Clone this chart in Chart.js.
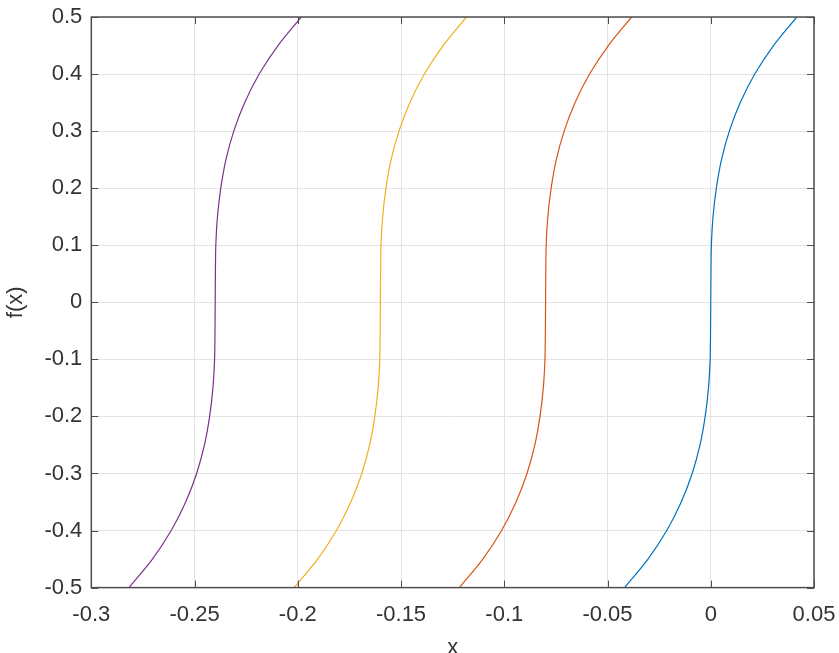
<!DOCTYPE html>
<html lang="en">
<head>
    <meta charset="UTF-8">
    <title>f(x)</title>
    <style>
        body {
            margin: 0;
            padding: 0;
            background: #fff;
        }
        .wrap {
            width: 839px;
            height: 653px;
        }
    </style>
</head>
<body>
    <div class="wrap">
        <canvas id="plot"></canvas>
    </div>
    <script src="https://cdn.jsdelivr.net/npm/chart.js"></script>
    <script>
        // f(x) values shared by all curves
        const fVals = [-0.5, -0.45, -0.4, -0.35, -0.3, -0.25, -0.2, -0.15, -0.1, -0.05, 0,
            0.05, 0.1, 0.15, 0.2, 0.25, 0.3, 0.35, 0.4, 0.45, 0.5];

        // x positions
        const xBlue = [-0.0417, -0.0304, -0.0213, -0.0143, -0.0090, -0.0052, -0.0027, -0.0011, -0.0003, -0.0001, 0,
            0.0001, 0.0003, 0.0011, 0.0027, 0.0052, 0.0090, 0.0143, 0.0213, 0.0304, 0.0417];
        const xRed = [-0.1217, -0.1104, -0.1013, -0.0943, -0.0890, -0.0852, -0.0827, -0.0811, -0.0803, -0.0801, -0.0800,
            -0.0799, -0.0797, -0.0789, -0.0773, -0.0748, -0.0710, -0.0657, -0.0587, -0.0496, -0.0383];
        const xYellow = [-0.2017, -0.1904, -0.1813, -0.1743, -0.1690, -0.1652, -0.1627, -0.1611, -0.1603, -0.1601, -0.1600,
            -0.1599, -0.1597, -0.1589, -0.1573, -0.1548, -0.1510, -0.1457, -0.1387, -0.1296, -0.1183];
        const xPurple = [-0.2817, -0.2704, -0.2613, -0.2543, -0.2490, -0.2452, -0.2427, -0.2411, -0.2403, -0.2401, -0.2400,
            -0.2399, -0.2397, -0.2389, -0.2373, -0.2348, -0.2310, -0.2257, -0.2187, -0.2096, -0.1983];

        const xTicks = [-0.3, -0.25, -0.2, -0.15, -0.1, -0.05, 0, 0.05];
        const yTicks = [-0.5, -0.4, -0.3, -0.2, -0.1, 0, 0.1, 0.2, 0.3, 0.4, 0.5];

        const axisColor = '#4d4d4d';
        const fontFamily = '"Liberation Sans", Arial, sans-serif';

        function toPoints(xs) {
            return xs.map((x, i) => ({ x: x, y: fVals[i] }));
        }

        function curve(xs, color) {
            return {
                data: toPoints(xs),
                showLine: true,
                borderColor: color,
                borderWidth: 1.2,
                pointRadius: 0,
                tension: 0.3,
                fill: false
            };
        }

        function fmt(v) {
            return String(parseFloat(Number(v).toFixed(2)));
        }

        // MATLAB style box with inward ticks on all sides
        const boxPlugin = {
            id: 'box',
            afterDraw(chart) {
                const { ctx, chartArea: a, scales } = chart;
                const len = 7;
                ctx.save();
                ctx.strokeStyle = axisColor;
                ctx.lineWidth = 1;
                ctx.beginPath();
                xTicks.forEach(t => {
                    const px = Math.round(scales.x.getPixelForValue(t)) + 0.5;
                    ctx.moveTo(px, a.bottom); ctx.lineTo(px, a.bottom - len);
                    ctx.moveTo(px, a.top); ctx.lineTo(px, a.top + len);
                });
                yTicks.forEach(t => {
                    const py = Math.round(scales.y.getPixelForValue(t)) + 0.5;
                    ctx.moveTo(a.left, py); ctx.lineTo(a.left + len, py);
                    ctx.moveTo(a.right, py); ctx.lineTo(a.right - len, py);
                });
                ctx.stroke();
                ctx.lineWidth = 1.5;
                ctx.strokeRect(a.left, a.top, a.right - a.left, a.bottom - a.top);
                ctx.restore();
            }
        };

        const chart = new Chart(document.getElementById('plot'), {
            type: 'scatter',
            data: {
                datasets: [
                    curve(xBlue, '#0072BD'),
                    curve(xRed, '#D95319'),
                    curve(xYellow, '#EDB120'),
                    curve(xPurple, '#7E2F8E')
                ]
            },
            options: {
                responsive: true,
                maintainAspectRatio: false,
                animation: false,
                layout: {
                    padding: { left: 3, right: 0, top: 0, bottom: 0 }
                },
                plugins: {
                    legend: { display: false },
                    tooltip: { enabled: false }
                },
                scales: {
                    x: {
                        type: 'linear',
                        min: -0.3,
                        max: 0.05,
                        afterBuildTicks: s => { s.ticks = xTicks.map(v => ({ value: v })); },
                        afterFit: s => { s.paddingRight = 25; s.paddingLeft = 0; },
                        ticks: {
                            callback: fmt,
                            color: '#333',
                            padding: 14,
                            font: { family: fontFamily, size: 22 }
                        },
                        grid: { color: '#e3e3e3', drawTicks: false },
                        border: { display: false },
                        title: {
                            display: true,
                            text: 'x',
                            color: '#333',
                            padding: { top: 0, bottom: 0 },
                            font: { family: fontFamily, size: 22, lineHeight: 0.5 }
                        }
                    },
                    y: {
                        type: 'linear',
                        min: -0.5,
                        max: 0.5,
                        afterBuildTicks: s => { s.ticks = yTicks.map(v => ({ value: v })); },
                        afterFit: s => { s.paddingTop = 17; s.paddingBottom = 0; },
                        ticks: {
                            callback: fmt,
                            color: '#333',
                            padding: 9,
                            font: { family: fontFamily, size: 22 }
                        },
                        grid: { color: '#e3e3e3', drawTicks: false },
                        border: { display: false },
                        title: {
                            display: true,
                            text: 'f(x)',
                            color: '#333',
                            padding: { top: 0, bottom: 6 },
                            font: { family: fontFamily, size: 22 }
                        }
                    }
                }
            },
            plugins: [boxPlugin]
        });
    </script>
</body>
</html>
